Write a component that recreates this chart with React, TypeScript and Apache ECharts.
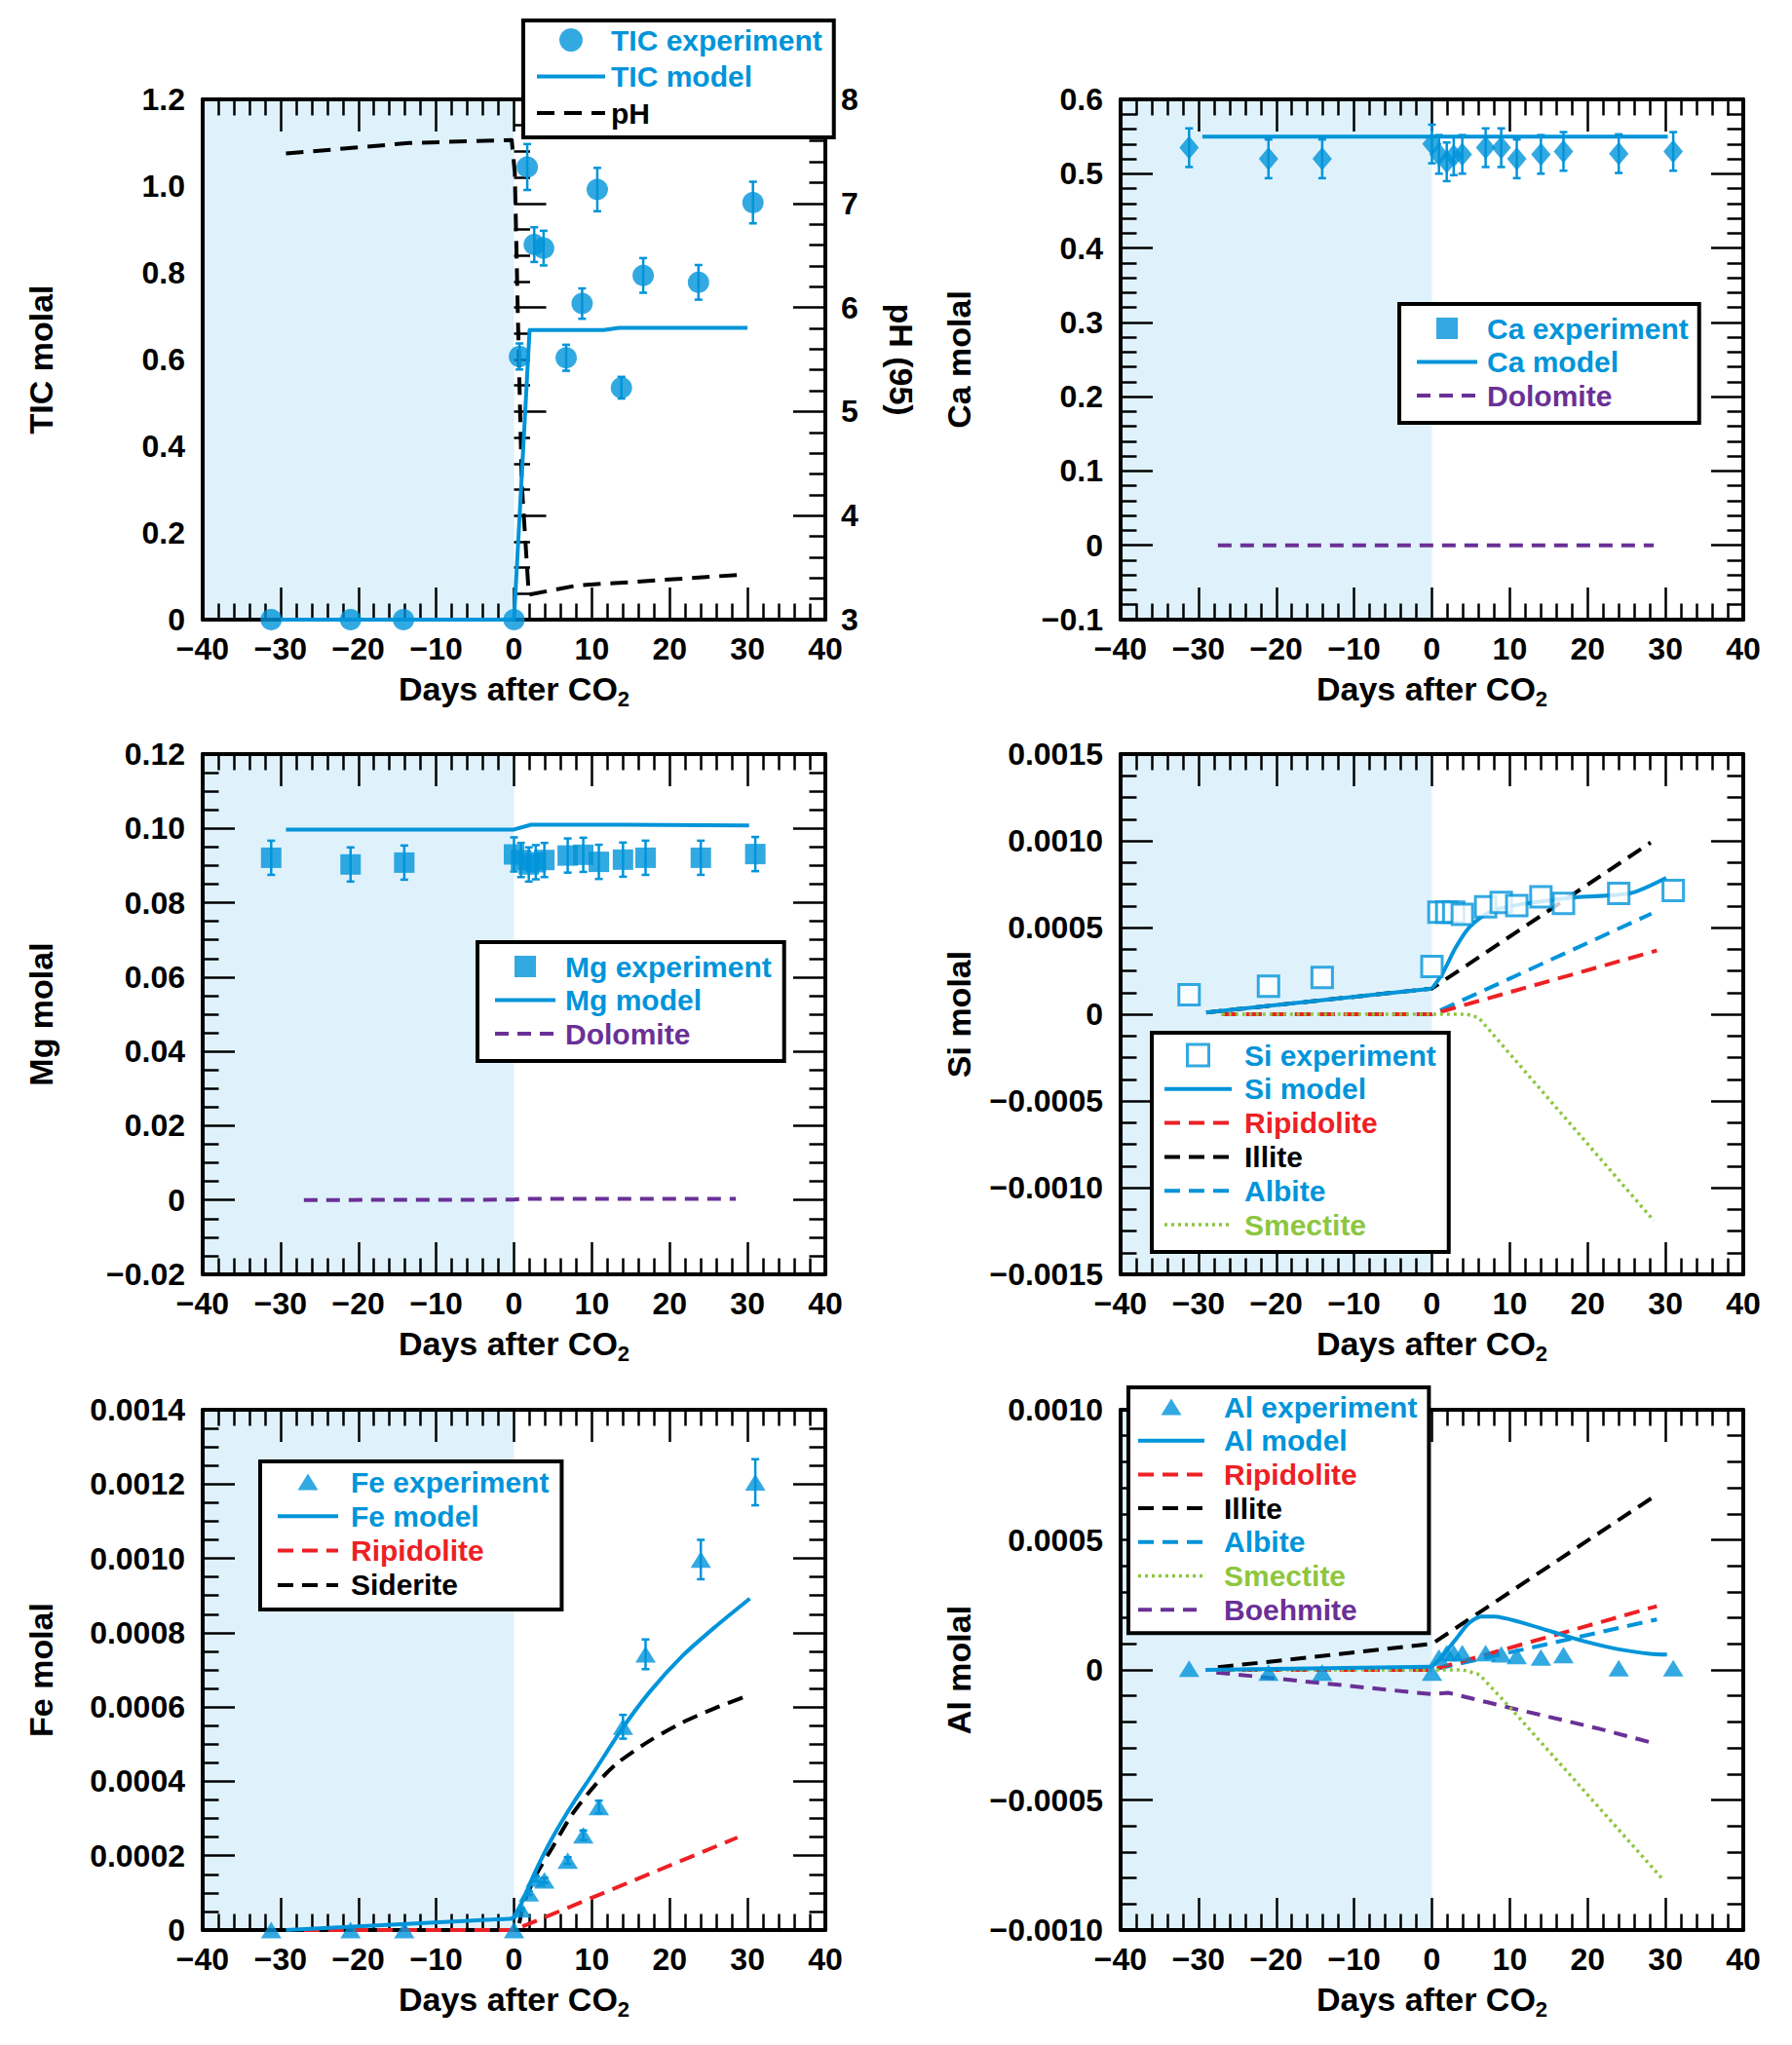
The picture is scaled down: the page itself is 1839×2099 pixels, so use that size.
import React, { useEffect, useRef } from "react";
import * as echarts from "echarts";

// ---------- colours & fonts ----------
const BLUE = "#0094d9";
const RED = "#ed2024";
const GREEN = "#8dc63f";
const PURPLE = "#6a3096";
const BLACK = "#000000";
const SHADE = "#dff2fc";
const FONT = '"Liberation Sans", Arial, Helvetica, sans-serif';

// ---------- shared x data ----------
const shadeRange = [-40, 0];
const sampleDays = [-31.2, -21, -14.1, 0, 0.9, 1.9, 2.8, 3.9, 6.9, 8.9, 10.9, 14, 16.9, 24, 31];
const ticDays = [-31.2, -21, -14.2, 0, 0.7, 1.7, 2.6, 3.8, 6.7, 8.75, 10.7, 13.8, 16.6, 23.7, 30.7];

// ---------- TIC panel ----------
const ticValues = [0, 0, 0, 0, 0.607, 1.044, 0.865, 0.857, 0.604, 0.729, 0.992, 0.535, 0.794, 0.778, 0.962];
const ticErrors = [0, 0, 0, 0, 0.03, 0.053, 0.04, 0.04, 0.03, 0.035, 0.05, 0.025, 0.04, 0.04, 0.048];
const ticModel = [[-30, 0], [0, 0], [2, 0.668], [11.5, 0.668], [13.5, 0.673], [30, 0.673]];
const phModel = [[-29.3, 7.48], [-13.5, 7.58], [-0.3, 7.61], [0.1, 7.3], [0.5, 5.9], [1.0, 4.3], [1.9, 3.24], [8.2, 3.33], [14.8, 3.36], [28.8, 3.43]];

// ---------- Ca panel ----------
const caValues = [0.535, 0.52, 0.52, 0.54, 0.526, 0.516, 0.524, 0.526, 0.535, 0.535, 0.52, 0.526, 0.53, 0.527, 0.53];
const caErrors = [0.026, 0.026, 0.026, 0.026, 0.026, 0.026, 0.026, 0.026, 0.026, 0.026, 0.026, 0.026, 0.026, 0.026, 0.026];
const caModel = [[-29.5, 0.55], [30.3, 0.55]];
const caDolomite = [[-27.5, 0], [28.5, 0]];

// ---------- Mg panel ----------
const mgValues = [0.0921, 0.0903, 0.0908, 0.093, 0.0915, 0.0903, 0.0909, 0.0915, 0.0927, 0.0929, 0.091, 0.0916, 0.0921, 0.0921, 0.0931];
const mgErrors = [0.0046, 0.0046, 0.0046, 0.0046, 0.0046, 0.0046, 0.0046, 0.0046, 0.0046, 0.0046, 0.0046, 0.0046, 0.0046, 0.0046, 0.0046];
const mgModel = [[-29.3, 0.0997], [0, 0.0997], [2.2, 0.101], [14, 0.101], [30.2, 0.1008]];
const mgDolomite = [[-27, 0], [0, 0.0001], [1, 0.0003], [28.5, 0.0003]];

// ---------- Si panel ----------
const siValues = [0.000112, 0.000162, 0.000212, 0.000275, 0.000589, 0.000589, 0.000589, 0.000576, 0.000619, 0.000644, 0.000626, 0.000677, 0.000639, 0.000697, 0.000714];
const siModelPre = [[-29, 0.00001], [0, 0.000148]];
const siModelPost = [[0, 0.000148], [1.3, 0.00023], [3, 0.00038], [4.65, 0.000493], [6.3, 0.000558], [8, 0.0006], [11, 0.00063], [14, 0.00065], [18.4, 0.000674], [25.5, 0.000698], [30.1, 0.000787]];
const siIllite = [[-29, 0.00001], [0, 0.000148], [28.1, 0.00099]];
const siRipidolite = [[-27, 0], [0, 0], [28.9, 0.000367]];
const siAlbite = [[-27, 0], [0, 0], [28.2, 0.00058]];
const siSmectite = [[-27, 0], [4.5, 0], [6, -0.00002], [28.5, -0.00119]];

// ---------- Fe panel ----------
const feValues = [0, 0, 0, 0, 0.000056, 0.000099, 0.000138, 0.000134, 0.000187, 0.000255, 0.000331, 0.000547, 0.000742, 0.000997, 0.001205];
const feErrors = [0, 0, 0, 0, 0.000003, 0.000005, 0.000007, 0.000007, 0.000009, 0.000013, 0.000017, 0.000032, 0.00004, 0.000053, 0.000062];
const feModelPre = [[-29.3, 0], [0, 0.000031]];
const feModelPost = [[0, 0.000031], [1.15, 0.000081], [2.8, 0.00016], [4.9, 0.000247], [7.4, 0.000335], [10.3, 0.000426], [13.7, 0.000536], [17.4, 0.00064], [21.6, 0.000737], [25.8, 0.000815], [30.3, 0.000892]];
const feSiderite = [[-27, 0], [0, 0], [1.2, 0.00007], [2.8, 0.000147], [4.9, 0.000221], [7.4, 0.000309], [10.3, 0.000387], [13.2, 0.000448], [17.4, 0.000509], [21.6, 0.000558], [25.8, 0.000597], [30.2, 0.000632]];
const feRipidolite = [[-27, 0], [0, 0], [28.7, 0.000249]];

// ---------- Al panel ----------
const alValues = [0.000005, -0.00001, -0.00001, -0.00001, 0.000048, 0.000065, 0.000065, 0.000065, 0.000065, 0.00006, 0.000053, 0.000048, 0.000057, 0.000007, 0.000007];
const alModelPre = [[-29.1, 0], [0, 0.000012]];
const alModelPost = [[0, 0.000012], [1.3, 0.000052], [3, 0.000115], [4.65, 0.000177], [6.3, 0.000205], [8, 0.000205], [11.3, 0.000184], [15.5, 0.000146], [19.7, 0.000109], [23.85, 0.00008], [28, 0.000062], [30.2, 0.000059]];
const alIllite = [[-27.5, 0.00001], [0, 0.0001], [28.2, 0.00066]];
const alRipidolite = [[-27.5, 0], [0, 0], [28.9, 0.000245]];
const alAlbite = [[-27.5, 0], [0, 0], [28.9, 0.000194]];
const alSmectite = [[-27.5, 0], [4, 0], [6.1, -0.000018], [10.5, -0.00016], [29.6, -0.000803]];
const alBoehmite = [[-27.7, -0.00001], [0, -0.0000935], [2.1, -0.000088], [9.8, -0.000144], [16.4, -0.00019], [21.6, -0.000227], [28.9, -0.000285]];

// ---------- layout ----------
const GRID_POS = [[208, 102], [1150, 102], [208, 774], [1150, 774], [208, 1447], [1150, 1447]];
const GRID_W = 639;
const GRID_H = 534;

const DASH = [16, 9];
const DASH_SHORT = [14, 9];
const DOT = [3, 4];

const ICON_SQUARE = "path://M0,0h10v10h-10z";
const ICON_TRIANGLE = "path://M10.5,0L21,17L0,17z";
const HIDE_SYMBOL = { color: "rgba(0,0,0,0)", borderColor: "rgba(0,0,0,0)", borderWidth: 0, opacity: 0 };

const fmtNum = (d: number) => (v: number) => {
  if (Math.abs(v) < 1e-12) return "0";
  const s = Math.abs(v).toFixed(d);
  return v < 0 ? "\u2212" + s : s;
};
const fmtX = (v: number) => (v < 0 ? "\u2212" + Math.abs(v) : String(v));

const labelStyle = { fontSize: 32, fontWeight: "bold", color: "#000", fontFamily: FONT };
const tickLine = { color: "#000", width: 2.5 };
const axisLine = { show: true, onZero: false, lineStyle: { color: "#000", width: 4 } };

function makeX(grid: number, bottom: boolean) {
  return {
    type: "value",
    gridIndex: grid,
    position: bottom ? "bottom" : "top",
    min: -40,
    max: 40,
    interval: 10,
    z: 1,
    axisLine,
    axisTick: { show: true, inside: true, length: 33, lineStyle: tickLine },
    minorTick: { show: true, splitNumber: 5, length: 16.5, lineStyle: tickLine },
    splitLine: { show: false },
    minorSplitLine: { show: false },
    axisLabel: bottom ? { show: true, formatter: fmtX, margin: 14, ...labelStyle } : { show: false },
    name: bottom ? "Days after CO{sub|2}" : "",
    nameLocation: "middle",
    nameGap: 50,
    nameTextStyle: {
      fontSize: 34,
      fontWeight: "bold",
      color: "#000",
      fontFamily: FONT,
      lineHeight: 42,
      rich: {
        sub: { fontSize: 22, fontWeight: "bold", color: "#000", fontFamily: FONT, lineHeight: 20, verticalAlign: "bottom" },
      },
    },
  };
}

function makeY(o: any) {
  return {
    type: "value",
    gridIndex: o.grid,
    position: o.position,
    min: o.min,
    max: o.max,
    interval: o.interval,
    z: 1,
    axisLine: o.noLine ? { show: false } : axisLine,
    axisTick: o.noTicks ? { show: false } : { show: true, inside: true, length: 33, lineStyle: tickLine },
    minorTick: o.noTicks
      ? { show: false }
      : { show: true, splitNumber: o.minor, length: 16.5, lineStyle: tickLine },
    splitLine: { show: false },
    minorSplitLine: { show: false },
    axisLabel: o.labels
      ? { show: true, formatter: fmtNum(o.decimals), margin: o.margin ?? 18, ...labelStyle }
      : { show: false },
    name: o.name || "",
    nameLocation: "middle",
    nameGap: o.nameGap ?? 147,
    nameRotate: o.nameRotate,
    nameTextStyle: { fontSize: 34, fontWeight: "bold", color: "#000", fontFamily: FONT, lineHeight: 38 },
  };
}

function shadeSeries(xi: number, yi: number) {
  return {
    type: "custom",
    name: "shade",
    xAxisIndex: xi,
    yAxisIndex: yi,
    z: 0,
    silent: true,
    data: [[shadeRange[0], shadeRange[1]]],
    encode: { x: [0, 1] },
    renderItem: (params: any, api: any) => {
      const cs = params.coordSys;
      const a = api.coord([api.value(0), 0]);
      const b = api.coord([api.value(1), 0]);
      return {
        type: "rect",
        shape: { x: a[0], y: cs.y, width: b[0] - a[0], height: cs.height },
        style: { fill: SHADE },
      };
    },
  };
}

function lineSeries(name: string, data: number[][], xi: number, yi: number, color: string, type: any, width = 4, z = 3, smooth: any = false) {
  return {
    type: "line",
    name,
    data,
    xAxisIndex: xi,
    yAxisIndex: yi,
    symbol: "none",
    showSymbol: false,
    clip: false,
    z,
    silent: true,
    smooth,
    lineStyle: { color, width, type, cap: "butt", join: "round" },
    itemStyle: { color },
  };
}

function scatterSeries(name: string, days: number[], vals: number[], xi: number, yi: number, symbol: string, size: any, itemStyle: any) {
  return {
    type: "scatter",
    name,
    data: days.map((d, i) => [d, vals[i]]),
    xAxisIndex: xi,
    yAxisIndex: yi,
    symbol,
    symbolSize: size,
    itemStyle,
    z: 5,
    clip: false,
    silent: true,
  };
}

function errorSeries(name: string, days: number[], vals: number[], errs: number[], xi: number, yi: number) {
  const data = days
    .map((d, i) => [d, vals[i] - errs[i], vals[i] + errs[i]])
    .filter((r) => r[2] > r[1]);
  return {
    type: "custom",
    name,
    xAxisIndex: xi,
    yAxisIndex: yi,
    z: 4,
    silent: true,
    data,
    encode: { x: 0, y: [1, 2] },
    renderItem: (params: any, api: any) => {
      const x = api.value(0);
      const lo = api.coord([x, api.value(1)]);
      const hi = api.coord([x, api.value(2)]);
      const c = 4;
      const st = { stroke: BLUE, lineWidth: 2.5 };
      return {
        type: "group",
        children: [
          { type: "line", shape: { x1: lo[0], y1: lo[1], x2: hi[0], y2: hi[1] }, style: st },
          { type: "line", shape: { x1: lo[0] - c, y1: lo[1], x2: lo[0] + c, y2: lo[1] }, style: st },
          { type: "line", shape: { x1: hi[0] - c, y1: hi[1], x2: hi[0] + c, y2: hi[1] }, style: st },
        ],
      };
    },
  };
}

function legendBox(left: number, top: number, items: any[], o: any) {
  return {
    show: true,
    orient: "vertical",
    left,
    top,
    z: 10,
    selectedMode: false,
    itemWidth: o.itemWidth,
    itemHeight: o.itemHeight,
    itemGap: o.itemGap,
    padding: o.padding,
    backgroundColor: "#fff",
    borderColor: "#000",
    borderWidth: 4,
    borderRadius: 0,
    lineStyle: { width: 4 },
    textStyle: {
      fontFamily: FONT,
      fontSize: 30,
      fontWeight: "bold",
      color: "#000",
      padding: [0, 0, 0, o.textGap],
    },
    data: items.map((it) => {
      const d: any = { name: it.name, textStyle: { color: it.color } };
      if (it.icon) d.icon = it.icon;
      if (it.itemStyle) d.itemStyle = it.itemStyle;
      else if (it.line) d.itemStyle = HIDE_SYMBOL;
      if (it.lineWidth) d.lineStyle = { width: it.lineWidth };
      return d;
    }),
  };
}

function buildOption() {
  const grids = GRID_POS.map(([l, t]) => ({ left: l, top: t, width: GRID_W, height: GRID_H, show: false, outerBoundsMode: "none" }));
  const xAxis: any[] = [];
  GRID_POS.forEach((_, g) => {
    xAxis.push(makeX(g, true));
    xAxis.push(makeX(g, false));
  });
  const yAxis: any[] = [];
  const addY = (o: any) => {
    yAxis.push(makeY(o));
    return yAxis.length - 1;
  };

  // TIC
  const yTic = addY({ grid: 0, position: "left", min: 0, max: 1.2, interval: 0.2, minor: 5, decimals: 1, labels: true, noTicks: true, name: "TIC molal" });
  const yPh = addY({ grid: 0, position: "right", min: 3, max: 8, interval: 1, minor: 5, decimals: 0, labels: true, margin: 16, name: "pH (95)", nameRotate: -90, nameGap: 59 });
  addY({ grid: 0, position: "left", min: 3, max: 8, interval: 1, minor: 4, decimals: 0, labels: false, noLine: true });
  // Ca
  const yCa = addY({ grid: 1, position: "left", min: -0.1, max: 0.6, interval: 0.1, minor: 5, decimals: 1, labels: true, name: "Ca molal" });
  addY({ grid: 1, position: "right", min: -0.1, max: 0.6, interval: 0.1, minor: 5, decimals: 1, labels: false });
  // Mg
  const yMg = addY({ grid: 2, position: "left", min: -0.02, max: 0.12, interval: 0.02, minor: 4, decimals: 2, labels: true, name: "Mg molal" });
  addY({ grid: 2, position: "right", min: -0.02, max: 0.12, interval: 0.02, minor: 4, decimals: 2, labels: false });
  // Si
  const ySi = addY({ grid: 3, position: "left", min: -0.0015, max: 0.0015, interval: 0.0005, minor: 4, decimals: 4, labels: true, name: "Si molal" });
  addY({ grid: 3, position: "right", min: -0.0015, max: 0.0015, interval: 0.0005, minor: 4, decimals: 4, labels: false });
  // Fe
  const yFe = addY({ grid: 4, position: "left", min: 0, max: 0.0014, interval: 0.0002, minor: 4, decimals: 4, labels: true, name: "Fe molal" });
  addY({ grid: 4, position: "right", min: 0, max: 0.0014, interval: 0.0002, minor: 4, decimals: 4, labels: false });
  // Al
  const yAl = addY({ grid: 5, position: "left", min: -0.001, max: 0.001, interval: 0.0005, minor: 5, decimals: 4, labels: true, name: "Al molal" });
  addY({ grid: 5, position: "right", min: -0.001, max: 0.001, interval: 0.0005, minor: 5, decimals: 4, labels: false });

  const xi = (g: number) => 2 * g;
  const SM = 0.25;

  const series: any[] = [
    // TIC
    shadeSeries(xi(0), yTic),
    lineSeries("pH", phModel, xi(0), yPh, BLACK, [18, 10]),
    lineSeries("TIC model", ticModel, xi(0), yTic, BLUE, "solid"),
    errorSeries("TIC error", ticDays, ticValues, ticErrors, xi(0), yTic),
    scatterSeries("TIC experiment", ticDays, ticValues, xi(0), yTic, "circle", 22, { color: BLUE }),
    // Ca
    shadeSeries(xi(1), yCa),
    lineSeries("Dolomite", caDolomite, xi(1), yCa, PURPLE, DASH_SHORT),
    lineSeries("Ca model", caModel, xi(1), yCa, BLUE, "solid"),
    errorSeries("Ca error", sampleDays, caValues, caErrors, xi(1), yCa),
    scatterSeries("Ca experiment", sampleDays, caValues, xi(1), yCa, "diamond", [20, 24], { color: BLUE }),
    // Mg
    shadeSeries(xi(2), yMg),
    lineSeries("Dolomite", mgDolomite, xi(2), yMg, PURPLE, DASH_SHORT),
    lineSeries("Mg model", mgModel, xi(2), yMg, BLUE, "solid"),
    errorSeries("Mg error", sampleDays, mgValues, mgErrors, xi(2), yMg),
    scatterSeries("Mg experiment", sampleDays, mgValues, xi(2), yMg, "rect", 21, { color: BLUE }),
    // Si
    shadeSeries(xi(3), ySi),
    lineSeries("Albite", siAlbite, xi(3), ySi, BLUE, DASH),
    lineSeries("Illite", siIllite, xi(3), ySi, BLACK, DASH),
    lineSeries("Ripidolite", siRipidolite, xi(3), ySi, RED, DASH),
    lineSeries("Smectite", siSmectite, xi(3), ySi, GREEN, DOT, 3.5),
    lineSeries("Si model", siModelPre, xi(3), ySi, BLUE, "solid"),
    lineSeries("Si model", siModelPost, xi(3), ySi, BLUE, "solid", 4, 3, SM),
    scatterSeries("Si experiment", sampleDays, siValues, xi(3), ySi, "rect", 21, { color: "#fff", borderColor: BLUE, borderWidth: 3 }),
    // Fe
    shadeSeries(xi(4), yFe),
    lineSeries("Siderite", feSiderite, xi(4), yFe, BLACK, DASH, 4, 3, SM),
    lineSeries("Ripidolite", feRipidolite, xi(4), yFe, RED, DASH),
    lineSeries("Fe model", feModelPre, xi(4), yFe, BLUE, "solid"),
    lineSeries("Fe model", feModelPost, xi(4), yFe, BLUE, "solid", 4, 3, SM),
    errorSeries("Fe error", sampleDays, feValues, feErrors, xi(4), yFe),
    scatterSeries("Fe experiment", sampleDays, feValues, xi(4), yFe, "triangle", [21, 17], { color: BLUE }),
    // Al
    shadeSeries(xi(5), yAl),
    lineSeries("Boehmite", alBoehmite, xi(5), yAl, PURPLE, DASH_SHORT),
    lineSeries("Albite", alAlbite, xi(5), yAl, BLUE, DASH),
    lineSeries("Illite", alIllite, xi(5), yAl, BLACK, DASH),
    lineSeries("Ripidolite", alRipidolite, xi(5), yAl, RED, DASH),
    lineSeries("Smectite", alSmectite, xi(5), yAl, GREEN, DOT, 3.5),
    lineSeries("Al model", alModelPre, xi(5), yAl, BLUE, "solid"),
    lineSeries("Al model", alModelPost, xi(5), yAl, BLUE, "solid", 4, 3, SM),
    scatterSeries("Al experiment", sampleDays, alValues, xi(5), yAl, "triangle", [21, 17], { color: BLUE }),
  ];

  const legend = [
    legendBox(537, 21, [
      { name: "TIC experiment", color: BLUE },
      { name: "TIC model", color: BLUE, line: true },
      { name: "pH", color: BLACK, line: true },
    ], { itemWidth: 70, itemHeight: 24, itemGap: 7.5, padding: [5, 12, 10, 12], textGap: 1 }),
    legendBox(1436, 312, [
      { name: "Ca experiment", color: BLUE, icon: ICON_SQUARE },
      { name: "Ca model", color: BLUE, line: true },
      { name: "Dolomite", color: PURPLE, line: true },
    ], { itemWidth: 62, itemHeight: 22, itemGap: 4.5, padding: [10, 11, 13, 16], textGap: 5 }),
    legendBox(490, 967, [
      { name: "Mg experiment", color: BLUE, icon: ICON_SQUARE },
      { name: "Mg model", color: BLUE, line: true },
      { name: "Dolomite", color: PURPLE, line: true },
    ], { itemWidth: 62, itemHeight: 22, itemGap: 4.5, padding: [10, 13, 13, 16], textGap: 5 }),
    legendBox(1182, 1060, [
      { name: "Si experiment", color: BLUE, icon: ICON_SQUARE, itemStyle: { color: "#fff", borderColor: BLUE, borderWidth: 3 } },
      { name: "Si model", color: BLUE, line: true },
      { name: "Ripidolite", color: RED, line: true },
      { name: "Illite", color: BLACK, line: true },
      { name: "Albite", color: BLUE, line: true },
      { name: "Smectite", color: GREEN, line: true, lineWidth: 3.5 },
    ], { itemWidth: 69, itemHeight: 22, itemGap: 4.8, padding: [8, 13, 13, 11], textGap: 8 }),
    legendBox(267, 1500, [
      { name: "Fe experiment", color: BLUE, icon: ICON_TRIANGLE },
      { name: "Fe model", color: BLUE, line: true },
      { name: "Ripidolite", color: RED, line: true },
      { name: "Siderite", color: BLACK, line: true },
    ], { itemWidth: 62, itemHeight: 17, itemGap: 5.3, padding: [6, 13, 10, 16], textGap: 8 }),
    legendBox(1158, 1424, [
      { name: "Al experiment", color: BLUE, icon: ICON_TRIANGLE },
      { name: "Al model", color: BLUE, line: true },
      { name: "Ripidolite", color: RED, line: true },
      { name: "Illite", color: BLACK, line: true },
      { name: "Albite", color: BLUE, line: true },
      { name: "Smectite", color: GREEN, line: true, lineWidth: 3.5 },
      { name: "Boehmite", color: PURPLE, line: true },
    ], { itemWidth: 68, itemHeight: 17, itemGap: 4.7, padding: [5, 12, 9, 8], textGap: 15 }),
  ];

  return {
    animation: false,
    backgroundColor: "#fff",
    textStyle: { fontFamily: FONT },
    grid: grids,
    xAxis,
    yAxis,
    legend,
    series,
  };
}

export default function App() {
  const ref = useRef<HTMLDivElement>(null);
  useEffect(() => {
    if (!ref.current) return;
    const chart = echarts.init(ref.current, null, { renderer: "svg" });
    chart.setOption(buildOption() as any);
    return () => chart.dispose();
  }, []);
  return (
    <div
      ref={ref}
      style={{ position: "absolute", left: 0, top: 0, width: 1839, height: 2099, background: "#fff" }}
    />
  );
}
